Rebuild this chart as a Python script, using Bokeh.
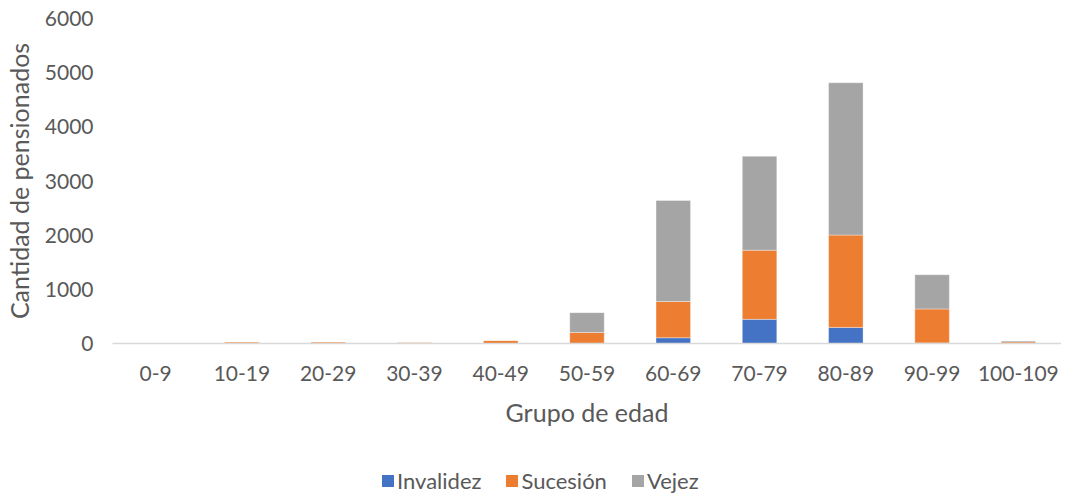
from bokeh.plotting import figure
from bokeh.layouts import column
from bokeh.models import FactorRange, Range1d, Legend, LegendItem, ColumnDataSource
from bokeh.embed import file_html
from bokeh.resources import INLINE

grupos = ["0-9", "10-19", "20-29", "30-39", "40-49", "50-59", "60-69", "70-79", "80-89", "90-99", "100-109"]
invalidez = [0, 0, 0, 0, 0, 0, 106, 446, 297, 10, 0]
sucesion = [0, 30, 30, 22, 55, 204, 670, 1277, 1705, 628, 30]
vejez = [0, 0, 0, 0, 0, 366, 1865, 1734, 2812, 632, 18]
series = ["Invalidez", "Sucesión", "Vejez"]
colores = ["#4472C4", "#ED7D31", "#A5A5A5"]
y_ticks = [0, 1000, 2000, 3000, 4000, 5000, 6000]

FONT = "Lato"
TXT = "#595959"

src = ColumnDataSource(dict(grupo=grupos, Invalidez=invalidez, Sucesión=sucesion, Vejez=vejez))

p = figure(width=1061, height=429, x_range=FactorRange(*grupos, range_padding=0),
           y_range=Range1d(0, 6000), output_backend="svg", toolbar_location=None,
           min_border_left=107, min_border_right=0, min_border_top=18, min_border_bottom=0)

rs = p.vbar_stack(series, x="grupo", width=0.4, source=src, fill_color=colores,
                  line_color="white", line_alpha=0.6, line_width=0.6)

p.outline_line_color = None
p.xgrid.grid_line_color = None
p.ygrid.grid_line_color = None

p.yaxis.ticker = y_ticks
p.yaxis.axis_line_color = None
p.yaxis.major_tick_line_color = None
p.yaxis.minor_tick_line_color = None
p.yaxis.major_tick_out = 0
p.yaxis.major_tick_in = 0
p.yaxis.minor_tick_out = 0
p.yaxis.major_label_text_font = FONT
p.yaxis.major_label_text_font_size = "21px"
p.yaxis.major_label_text_color = TXT
p.yaxis.major_label_standoff = 19
p.yaxis.axis_label = "Cantidad de pensionados"
p.yaxis.axis_label_text_font = FONT
p.yaxis.axis_label_text_font_size = "25px"
p.yaxis.axis_label_text_font_style = "normal"
p.yaxis.axis_label_text_color = TXT
p.yaxis.axis_label_standoff = 8

p.xaxis.axis_line_color = "#D9D9D9"
p.xaxis.axis_line_width = 1.5
p.xaxis.major_tick_line_color = None
p.xaxis.minor_tick_line_color = None
p.xaxis.major_tick_out = 0
p.xaxis.major_tick_in = 0
p.xaxis.minor_tick_out = 0
p.xaxis.major_label_text_font = FONT
p.xaxis.major_label_text_font_size = "21px"
p.xaxis.major_label_text_color = TXT
p.xaxis.major_label_standoff = 22
p.xaxis.axis_label = "Grupo de edad"
p.xaxis.axis_label_text_font = FONT
p.xaxis.axis_label_text_font_size = "25px"
p.xaxis.axis_label_text_font_style = "normal"
p.xaxis.axis_label_text_color = TXT
p.xaxis.axis_label_standoff = 13

# legend strip (same stacked series, drawn outside its visible range; only the legend shows)
pl = figure(width=1061, height=65, x_range=FactorRange(*grupos, range_padding=0),
            y_range=Range1d(100000, 100001),
            output_backend="svg", toolbar_location=None,
            min_border_left=107, min_border_right=0, min_border_top=0, min_border_bottom=0)
pl.axis.visible = False
pl.grid.visible = False
pl.outline_line_color = None
leg_rs = pl.vbar_stack(series, x="grupo", width=0.4, source=src, fill_color=colores,
                       line_color=None)

legend = Legend(items=[LegendItem(label=s, renderers=[r]) for s, r in zip(series, leg_rs)],
                orientation="horizontal", location=(268, 0),
                label_text_font=FONT, label_text_font_size="22px", label_text_color=TXT,
                glyph_width=15, glyph_height=15, label_standoff=2, spacing=23,
                border_line_color=None, background_fill_alpha=0, padding=0, margin=0)
pl.add_layout(legend, "center")

layout = column(p, pl, spacing=0)
open("out.html", "w").write(file_html(layout, INLINE))
